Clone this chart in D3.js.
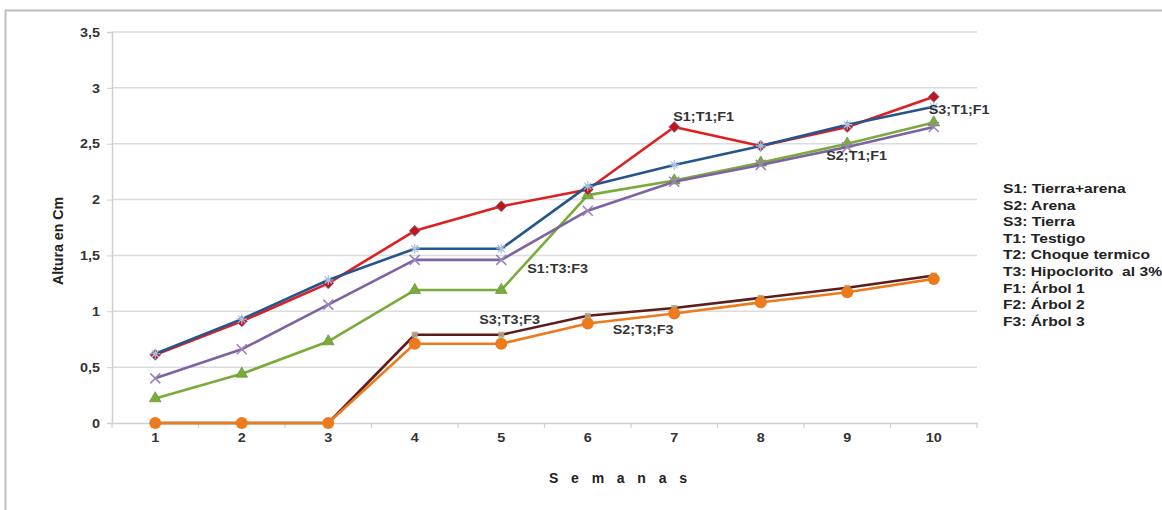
<!DOCTYPE html>
<html>
<head>
<meta charset="utf-8">
<script src="https://cdn.jsdelivr.net/npm/d3@7/dist/d3.min.js"></script>
<style>
html,body{margin:0;padding:0;background:#fff;}
svg{display:block;font-family:"Liberation Sans",Arial,sans-serif;}
</style>
</head>
<body>
<svg id="chart" width="1162" height="510"></svg>
<script>
// ---- data ----
const semanas = ["1","2","3","4","5","6","7","8","9","10"];
const yTicks = [0, 0.5, 1, 1.5, 2, 2.5, 3, 3.5];
const yTickLabels = ["0","0,5","1","1,5","2","2,5","3","3,5"];
const seriesNames = ["S1;T3;F3","S2;T1;F1","S3;T3;F3","S2;T3;F3","S1;T1;F1","S3;T1;F1"];
const s1t3f3 = [0.22, 0.44, 0.73, 1.19, 1.19, 2.04, 2.17, 2.33, 2.50, 2.69];
const s2t1f1 = [0.40, 0.66, 1.06, 1.46, 1.46, 1.90, 2.16, 2.31, 2.47, 2.65];
const s3t3f3 = [0, 0, 0, 0.79, 0.79, 0.96, 1.03, 1.12, 1.21, 1.32];
const s2t3f3 = [0, 0, 0, 0.71, 0.71, 0.89, 0.98, 1.08, 1.17, 1.29];
const s1t1f1 = [0.61, 0.91, 1.25, 1.72, 1.94, 2.09, 2.65, 2.48, 2.65, 2.92];
const s3t1f1 = [0.62, 0.93, 1.28, 1.56, 1.56, 2.12, 2.31, 2.48, 2.67, 2.83];
const legendLines = ["S1: Tierra+arena","S2: Arena","S3: Tierra","T1: Testigo","T2: Choque termico","T3: Hipoclorito  al 3%","F1: Árbol 1","F2: Árbol 2","F3: Árbol 3"];
const yTitle = "Altura en Cm";
const xTitle = "S e m a n a s";

const series = [
  {name:"S1;T3;F3", values:s1t3f3, color:"#79AC3A", marker:"triangle"},
  {name:"S2;T1;F1", values:s2t1f1, color:"#7E62A1", marker:"x"},
  {name:"S3;T3;F3", values:s3t3f3, color:"#5E1D1D", marker:"square"},
  {name:"S2;T3;F3", values:s2t3f3, color:"#EC7B1E", marker:"circle"},
  {name:"S1;T1;F1", values:s1t1f1, color:"#DD1F22", marker:"diamond"},
  {name:"S3;T1;F1", values:s3t1f1, color:"#25558C", marker:"star"}
];

const svg = d3.select("#chart");
const L = 112, R = 977, T = 32, B = 423;

const x = d3.scaleBand().domain(semanas).range([L, R]);
const xc = d => x(d) + x.bandwidth()/2;
const y = d3.scaleLinear().domain([0, 3.5]).range([B, T]);

// outer frame (top and left only visible)
svg.append("line").attr("x1",5).attr("x2",1162).attr("y1",10.5).attr("y2",10.5).attr("stroke","#bdbdbd").attr("stroke-width",2);
svg.append("line").attr("x1",5.5).attr("x2",5.5).attr("y1",10).attr("y2",510).attr("stroke","#bdbdbd").attr("stroke-width",2);

// gridlines
svg.append("g").selectAll("line").data(yTicks.slice(1)).join("line")
  .attr("x1", L).attr("x2", R).attr("y1", d=>y(d)).attr("y2", d=>y(d))
  .attr("stroke","#dcdcdc").attr("stroke-width",1.5);

// y axis
const yAxis = d3.axisLeft(y).tickValues(yTicks).tickSize(5).tickFormat((d,i)=>yTickLabels[i]);
const gy = svg.append("g").attr("transform",`translate(${L},0)`).call(yAxis);
gy.select(".domain").attr("stroke","#cfcfcf").attr("stroke-width",1.5);
gy.selectAll(".tick line").attr("stroke","#cfcfcf");
gy.selectAll(".tick text").remove();
gy.selectAll(".tick").append("g").attr("transform","translate(-12,0) scale(1.2,1)")
  .append("text").attr("text-anchor","end").attr("dy","0.35em")
  .attr("font-size",12).attr("font-weight","bold").attr("fill","#333")
  .text((d,i)=>yTickLabels[i]);

// x axis
const xAxis = d3.axisBottom(x).tickSize(0);
const gx = svg.append("g").attr("transform",`translate(0,${B})`).call(xAxis);
gx.select(".domain").attr("stroke","#cfcfcf").attr("stroke-width",1.5);
gx.selectAll(".tick text").remove();
gx.selectAll(".tick").append("g").attr("transform","translate(0,19) scale(1.2,1)")
  .append("text").attr("text-anchor","middle")
  .attr("font-size",12).attr("font-weight","bold").attr("fill","#333")
  .text(d=>d);
// boundary ticks
const bounds = semanas.map(d=>x(d)).concat([R]);
svg.append("g").selectAll("line").data(bounds).join("line")
  .attr("x1",d=>d).attr("x2",d=>d).attr("y1",B).attr("y2",B+5)
  .attr("stroke","#cfcfcf").attr("stroke-width",1.2);

// lines
const line = d3.line().x((d,i)=>xc(semanas[i])).y(d=>y(d));
const gLines = svg.append("g");
series.forEach(s=>{
  const g = gLines.append("g");
  g.append("path").datum(s.values).attr("d",line).attr("fill","none")
    .attr("stroke",s.color).attr("stroke-width",2.6).attr("stroke-linejoin","round");
  const pts = g.selectAll("g.m").data(s.values).join("g")
    .attr("transform",(d,i)=>`translate(${xc(semanas[i])},${y(d)})`);
  if (s.marker==="triangle") {
    pts.append("path").attr("d",d3.symbol(d3.symbolTriangle,60)()).attr("fill",s.color).attr("stroke","#5e8a2a").attr("stroke-width",0.6);
  } else if (s.marker==="x") {
    pts.append("path").attr("d","M-5,-5L5,5M-5,5L5,-5").attr("stroke","#9a86bb").attr("stroke-width",1.6).attr("fill","none");
  } else if (s.marker==="square") {
    pts.append("rect").attr("x",-3).attr("y",-3).attr("width",6).attr("height",6).attr("fill","#b7a27e").attr("opacity",0.9);
  } else if (s.marker==="circle") {
    pts.append("circle").attr("r",6).attr("fill",s.color);
  } else if (s.marker==="diamond") {
    pts.append("path").attr("d","M0,-5.5L5.5,0L0,5.5L-5.5,0Z").attr("fill","#C4141A").attr("stroke","#6a7fb0").attr("stroke-width",0.8);
  } else if (s.marker==="star") {
    pts.append("path").attr("d","M-5,0L5,0M0,-5L0,5M-3.5,-3.5L3.5,3.5M-3.5,3.5L3.5,-3.5").attr("stroke","#a9c0e0").attr("stroke-width",1.2).attr("fill","none");
  }
});

// data labels
function label(txt, px, py) {
  svg.append("g").attr("transform",`translate(${px},${py}) scale(1.2,1)`)
    .append("text").attr("font-size",12).attr("font-weight","bold").attr("fill","#333").text(txt);
}
const byName = n => series.find(s=>s.name===n).values;
label("S1;T1;F1", xc("7")-1,  y(byName("S1;T1;F1")[6]) - 6);
label("S3;T1;F1", xc("10")-5, y(byName("S3;T1;F1")[9]) + 7);
label("S2;T1;F1", xc("9")-21, y(byName("S2;T1;F1")[8]) + 13);
label("S1:T3:F3", xc("5")+26, y(byName("S1;T3;F3")[4]) - 17);
label("S3;T3;F3", xc("5")-22, y(byName("S3;T3;F3")[4]) - 11);
label("S2;T3;F3", xc("6")+25, y(byName("S2;T3;F3")[5]) + 10);

// axis titles
svg.append("g").attr("transform",`translate(63,241) rotate(-90) scale(1.05,1.15)`)
  .append("text").attr("text-anchor","middle").attr("font-size",13.5).attr("font-weight","bold").attr("fill","#222").text(yTitle);
svg.append("text").attr("x",549).attr("y",483).attr("textLength",138).attr("lengthAdjust","spacing")
  .attr("font-size",14).attr("font-weight","bold").attr("fill","#222").text(xTitle);

// legend
const lg = svg.append("g");
legendLines.forEach((t,i)=>{
  lg.append("g").attr("transform",`translate(1003,${193 + i*16.6}) scale(1.16,1)`)
    .append("text").attr("font-size",13.5).attr("font-weight","bold").attr("fill","#222")
    .attr("xml:space","preserve").style("white-space","pre").text(t);
});
</script>
</body>
</html>
